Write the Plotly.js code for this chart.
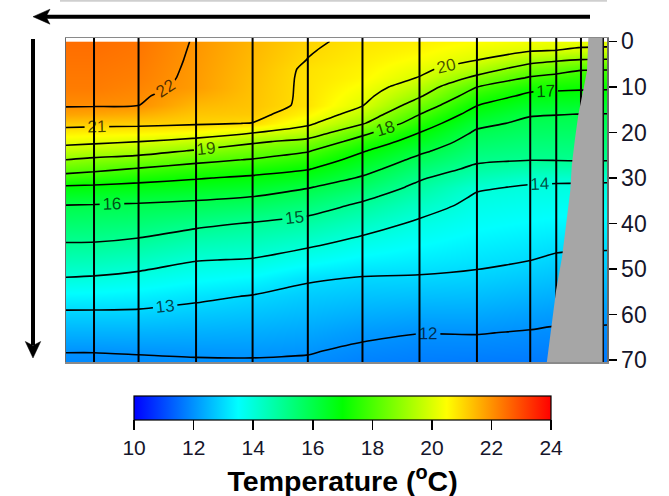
<!DOCTYPE html>
<html><head><meta charset="utf-8">
<script src="https://cdn.plot.ly/plotly-3.0.1.min.js"></script>
<style>html,body{margin:0;padding:0;background:#fff}#chart{width:669px;height:496px}</style>
</head><body><div id="chart"></div>
<script>
// Distance along the section (arbitrary units, 0 = left edge, 100 = right edge)
const distance = [0, 5.18, 13.41, 24.04, 34.49, 44.70, 54.80, 65.34, 75.96, 85.81, 90.62, 95.19, 100];
// Depth levels (m)
const depth = [0,2,4,6,8,10,12,14,16,18,20,22,24,26,28,30,32,34,36,40,44,48,52,56,60,64,68,72];

// Temperature profiles (°C), one per distance column, values at each depth level
const prof00 = [22.50,22.46,22.42,22.38,22.34,22.30,22.18,22.06,21.74,21.23,20.73,20.23,19.65,19.00,18.38,17.65,16.89,16.43,15.99,15.51,15.02,14.50,13.97,13.40,12.87,12.45,12.02,11.80];
const prof01 = [22.50,22.46,22.42,22.38,22.34,22.30,22.18,22.05,21.70,21.20,20.68,20.16,19.52,18.84,18.22,17.50,16.84,16.39,15.96,15.48,15.01,14.47,13.93,13.38,12.87,12.45,12.02,11.80];
const prof02 = [22.40,22.36,22.33,22.29,22.25,22.17,22.09,22.01,21.60,21.17,20.63,20.01,19.35,18.67,17.94,17.29,16.75,16.30,15.91,15.41,14.89,14.33,13.80,13.32,12.86,12.45,12.05,11.80];
const prof03 = [21.95,21.93,21.91,21.89,21.87,21.85,21.66,21.46,21.27,21.08,20.50,19.69,18.93,18.24,17.63,17.06,16.61,16.17,15.81,15.16,14.58,14.03,13.58,13.13,12.76,12.42,12.08,11.85];
const prof04 = [21.50,21.47,21.44,21.41,21.38,21.35,21.33,21.30,21.22,20.98,20.04,19.14,18.51,17.94,17.37,16.85,16.44,16.02,15.65,14.95,14.45,13.95,13.44,12.96,12.67,12.38,12.09,11.85];
const prof05 = [21.10,21.04,20.99,20.90,20.88,20.88,20.88,20.87,20.60,20.15,19.55,18.73,18.07,17.55,17.05,16.55,16.05,15.69,15.36,14.74,14.19,13.64,13.08,12.79,12.54,12.29,12.04,11.85];
const prof06 = [20.85,20.79,20.73,20.66,20.60,20.41,20.23,20.04,19.59,19.08,18.23,17.61,17.08,16.67,16.29,15.91,15.55,15.18,14.87,14.33,13.83,13.39,12.96,12.68,12.40,12.11,11.89,11.70];
const prof07 = [20.70,20.60,20.44,20.21,19.96,19.52,19.09,18.56,18.01,17.50,17.01,16.58,16.17,15.79,15.44,15.09,14.81,14.56,14.31,13.88,13.57,13.26,12.94,12.63,12.31,12.01,11.82,11.65];
const prof08 = [20.50,20.27,20.03,19.47,18.80,18.01,17.51,17.02,16.61,16.20,15.88,15.63,15.38,15.13,14.82,14.45,14.09,13.92,13.80,13.58,13.36,13.13,12.88,12.60,12.31,12.02,11.81,11.60];
const prof09 = [20.35,20.06,19.33,18.59,17.91,17.28,16.80,16.43,16.06,15.83,15.63,15.42,15.22,15.02,14.61,14.17,13.93,13.82,13.70,13.47,13.24,13.01,12.74,12.47,12.20,11.96,11.78,11.60];
const prof10 = [20.30,19.99,19.13,18.37,17.73,17.19,16.76,16.39,16.02,15.81,15.62,15.42,15.23,15.03,14.60,14.14,13.91,13.79,13.66,13.41,13.16,12.90,12.65,12.39,12.13,11.92,11.76,11.60];
const prof11 = [20.25,19.87,18.99,18.09,17.59,17.14,16.74,16.37,15.99,15.81,15.62,15.43,15.24,15.05,14.63,14.13,13.90,13.77,13.65,13.39,13.13,12.88,12.63,12.38,12.13,11.92,11.76,11.60];
const prof12 = [20.22,19.85,18.97,18.07,17.57,17.12,16.72,16.35,15.98,15.80,15.61,15.42,15.23,15.04,14.62,14.12,13.89,13.76,13.64,13.38,13.12,12.87,12.62,12.37,12.12,11.91,11.75,11.59];

// CTD station positions (vertical lines)
const stationX = [5.18, 13.41, 24.04, 34.49, 44.70, 54.80, 65.34, 75.96, 85.81, 90.62, 95.19, 99.31];
// Sea-bottom outline (distance, depth)
const bottomX     = [96.6, 96.3, 95.7, 94.7, 94.1, 93.5, 93.2, 92.5, 91.7, 90.6, 89.8, 88.8, 88.6, 99.31, 99.31];
const bottomDepth = [-2, 6.5, 10.2, 16.1, 21.2, 27.1, 32.9, 39.9, 47.3, 54.6, 61.9, 70, 73, 73, -2];

// Colour bar and depth ticks
const cbTicks = [10, 12, 14, 16, 18, 20, 22, 24];
const depthTicks = [0, 10, 20, 30, 40, 50, 60, 70];

const profiles = [prof00,prof01,prof02,prof03,prof04,prof05,prof06,prof07,prof08,prof09,prof10,prof11,prof12];
const zGrid = depth.map((d, i) => profiles.map(p => p[i]));

const FONT = 'Liberation Sans, Arial, sans-serif';
const TXT = '#15152a';
const JET = [[0,'#0000ff'],[0.25,'#00ffff'],[0.5,'#00ff00'],[0.75,'#ffff00'],[1,'#ff0000']];

// plot area in pixels
const PL = 66, PR = 607, PT = 38, PB = 362;
const fx = px => (px - PL) / (PR - PL);
const fy = py => (PB - py) / (PB - PT);

const innerStations = stationX.slice(0, -1);
const lastStation = stationX[stationX.length - 1];
const lineXs = [], lineYs = [];
innerStations.forEach(x => { lineXs.push(x, x, null); lineYs.push(-2, 73, null); });

const traces = [
  {
    type: 'contour', x: distance, y: depth, z: zGrid,
    zmin: 10, zmax: 24, zauto: false, colorscale: JET, showscale: false,
    autocontour: false,
    contours: {coloring: 'heatmap', start: 12, end: 22, size: 1, showlabels: true,
      labelfont: {family: FONT, size: 17, color: 'rgba(0,0,0,0.7)'}},
    line: {color: '#000', width: 1.6, smoothing: 0.6},
    hoverinfo: 'skip'
  },
  {type: 'scatter', mode: 'lines', x: lineXs, y: lineYs, line: {color: '#000', width: 2}, hoverinfo: 'skip', showlegend: false},
  {type: 'scatter', mode: 'lines', x: bottomX, y: bottomDepth, fill: 'toself', fillcolor: '#a6a6a6',
    line: {width: 0, color: '#a6a6a6'}, hoverinfo: 'skip', showlegend: false},
  {type: 'scatter', mode: 'lines', x: [lastStation, lastStation], y: [-2, 73], line: {color: '#111', width: 1.5}, hoverinfo: 'skip', showlegend: false},
  // colour-scale carrier (markers outside the visible range)
  {type: 'scatter', mode: 'markers', x: [-50, -50], y: [0, 0], opacity: 0, hoverinfo: 'skip', showlegend: false,
    marker: {color: [cbTicks[0], cbTicks[cbTicks.length - 1]], cmin: 10, cmax: 24, colorscale: JET, showscale: true,
      colorbar: {
        orientation: 'h', x: fx(342.6), xanchor: 'center', y: fy(395.7), yanchor: 'top',
        lenmode: 'pixels', len: 417, thicknessmode: 'pixels', thickness: 24,
        xpad: 0, ypad: 0,
        outlinecolor: '#000', outlinewidth: 1.2,
        tickmode: 'array', tickvals: cbTicks, ticktext: cbTicks.map(String),
        ticks: 'outside', ticklen: 10, tickwidth: 1.5, tickcolor: '#000',
        tickfont: {family: FONT, size: 21, color: TXT},
        title: {text: '<b>Temperature (<sup>o</sup>C)</b>', side: 'bottom', font: {family: FONT, size: 28.5, color: '#000'}}
      }}}
];

const tipT = [33, 16.7], tipL = [33, 358];
const shp = (d, w) => ({type: 'path', xref: 'paper', yref: 'paper', path: d, fillcolor: '#000', line: {color: '#000', width: w}});
const P = (px, py) => fx(px).toFixed(5) + ',' + fy(py).toFixed(5);

const layout = {
  width: 669, height: 496,
  margin: {l: PL, r: 669 - PR, t: PT, b: 496 - PB, pad: 0, autoexpand: false},
  paper_bgcolor: '#fff', plot_bgcolor: '#fff',
  font: {family: FONT, color: TXT},
  showlegend: false, hovermode: false,
  xaxis: {range: [0, 100], showticklabels: false, ticks: '', showgrid: false, zeroline: false,
    showline: true, mirror: true, linecolor: '#8a8a8a', linewidth: 1.5},
  yaxis: {range: [70.4, -0.75], side: 'right', tickmode: 'array', tickvals: depthTicks,
    ticks: 'outside', ticklen: 8, tickwidth: 1.5, tickcolor: '#000',
    tickfont: {family: FONT, size: 23, color: TXT},
    showgrid: false, zeroline: false, showline: true, mirror: true, linecolor: '#6a6a6a', linewidth: 1.5},
  shapes: [
    {type: 'line', xref: 'paper', yref: 'paper', x0: fx(60), x1: fx(607), y0: fy(0.8), y1: fy(0.8),
      line: {color: '#cfcfcf', width: 2}},
    // top arrow (pointing left)
    {type: 'line', xref: 'paper', yref: 'paper', x0: fx(46), x1: fx(590), y0: fy(tipT[1]), y1: fy(tipT[1]),
      line: {color: '#000', width: 4}},
    shp('M' + P(tipT[0], tipT[1]) + 'L' + P(50, 9.2) + 'L' + P(46, tipT[1]) + 'L' + P(50, 24.2) + 'Z', 0.5),
    // left arrow (pointing down)
    {type: 'line', xref: 'paper', yref: 'paper', x0: fx(tipL[0]), x1: fx(tipL[0]), y0: fy(39), y1: fy(345),
      line: {color: '#000', width: 4}},
    shp('M' + P(tipL[0], tipL[1]) + 'L' + P(25.3, 341.5) + 'L' + P(tipL[0], 345.5) + 'L' + P(40.7, 341.5) + 'Z', 0.5)
  ]
};

Plotly.newPlot('chart', traces, layout, {displayModeBar: false, staticPlot: true});
</script>
</body></html>
